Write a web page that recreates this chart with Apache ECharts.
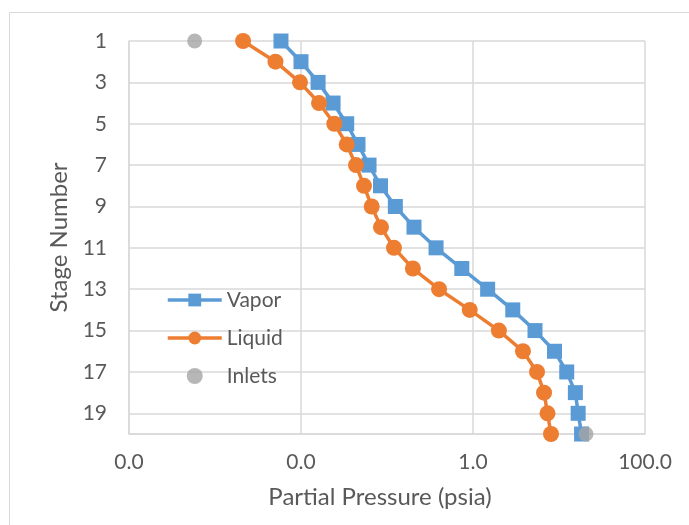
<!DOCTYPE html>
<html>
<head>
<meta charset="utf-8">
<script src="https://cdn.jsdelivr.net/npm/echarts@6/dist/echarts.min.js"></script>
<style>
html,body{margin:0;padding:0;background:#fff;}
#c{width:689px;height:525px;}
</style>
</head>
<body>
<div id="c"></div>
<script>
// Stage numbers (top to bottom)
const stages = [1,2,3,4,5,6,7,8,9,10,11,12,13,14,15,16,17,18,19,20];
// Partial pressures (psia)
const vapor = [0.00585,0.0100,0.0158,0.0236,0.0340,0.0460,0.0618,0.0840,0.125,0.206,0.372,0.741,1.48,2.90,5.26,8.87,12.3,15.5,16.7,18.3];
const liquid = [0.00212,0.00505,0.00973,0.0162,0.0244,0.0340,0.0436,0.0540,0.0664,0.0851,0.1205,0.200,0.403,0.916,2.00,3.81,5.55,6.70,7.35,8.07];
const inletStages = [1,20];
const inletValues = [0.00058,20.6];
const xTicks = [0.0001,0.01,1,100];
const seriesNames = ['Vapor','Liquid','Inlets'];

const pairs = (xs, ys) => xs.map((v,i)=>[v, ys[i]]);
const fontFam = 'Lato, "Open Sans", "Liberation Sans", sans-serif';
const grey = '#595959';
const gridCol = '#D9D9D9';

const chart = echarts.init(document.getElementById('c'), null, {renderer:'canvas'});
chart.setOption({
  animation:false,
  backgroundColor:'#fff',
  textStyle:{fontFamily:fontFam},
  graphic:[{type:'rect',shape:{x:9.5,y:12.5,width:720,height:560},style:{fill:'none',stroke:gridCol,lineWidth:1},silent:true,z:-1}],
  grid:{left:129,right:44,top:41,bottom:91},
  legend:{
    orient:'vertical',left:166,top:289,padding:0,
    itemWidth:54,itemHeight:16,itemGap:16,
    lineStyle:{width:3.5},
    textStyle:{fontSize:21,lineHeight:22,color:grey,fontFamily:fontFam,padding:[0,0,0,0]},
    data:seriesNames
  },
  xAxis:{
    type:'log',logBase:100,min:xTicks[0],max:xTicks[xTicks.length-1],
    name:'Partial Pressure (psia)',nameLocation:'middle',nameGap:51,
    nameTextStyle:{fontSize:24,color:grey,fontFamily:fontFam,padding:[0,14,0,0]},
    axisLine:{show:true,onZero:false,lineStyle:{color:gridCol,width:1.5}},
    axisTick:{show:false},
    axisLabel:{fontSize:21,color:grey,margin:18,fontFamily:fontFam,formatter:v=>Number(v).toFixed(1)},
    splitLine:{show:true,lineStyle:{color:gridCol,width:1.5}},
    minorTick:{show:false},minorSplitLine:{show:false}
  },
  yAxis:{
    type:'value',inverse:true,min:stages[0],max:stages[stages.length-1],interval:2,
    name:'Stage Number',nameLocation:'middle',nameGap:55,
    nameTextStyle:{fontSize:24,color:grey,fontFamily:fontFam},
    axisLine:{show:true,lineStyle:{color:gridCol,width:1.5}},
    axisTick:{show:false},
    axisLabel:{fontSize:21,color:grey,margin:22,fontFamily:fontFam,showMaxLabel:false,
      formatter:v=>(v===20?'':String(v))},
    splitLine:{show:true,lineStyle:{color:gridCol,width:1.5}}
  },
  series:[
    {name:seriesNames[0],type:'line',data:pairs(vapor,stages),symbol:'rect',symbolSize:15,clip:false,z:2,
      itemStyle:{color:'#5B9BD5'},lineStyle:{color:'#5B9BD5',width:3.5}},
    {name:seriesNames[1],type:'line',data:pairs(liquid,stages),symbol:'circle',symbolSize:16,clip:false,z:3,
      itemStyle:{color:'#ED7D31'},lineStyle:{color:'#ED7D31',width:3.5}},
    {name:seriesNames[2],type:'scatter',data:pairs(inletValues,inletStages),symbol:'circle',symbolSize:15,clip:false,z:4,
      itemStyle:{color:'#A5A5A5'}}
  ]
});
</script>
</body>
</html>
